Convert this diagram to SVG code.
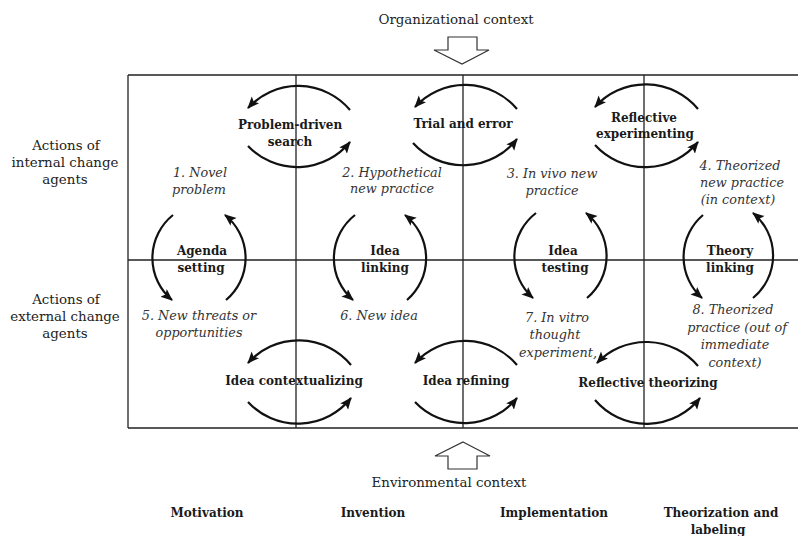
<svg xmlns="http://www.w3.org/2000/svg" width="798" height="536" viewBox="0 0 798 536">
<style>
.grid{stroke:#222;stroke-width:1.3;fill:none}
.arc{stroke:#111;stroke-width:2.2;fill:none;marker-end:url(#ah)}
.blk{stroke:#333;stroke-width:1.2;fill:#fff}
text{font-family:"DejaVu Serif",serif;font-size:13.4px;text-anchor:middle;fill:#222}
.b{font-size:12px;font-weight:bold;fill:#1a1a1a}
.i{font-size:12.8px;font-style:italic;fill:#333}
</style>
<defs>
<marker id="ah" markerUnits="userSpaceOnUse" markerWidth="14" markerHeight="12" refX="11" refY="5" orient="auto">
<path d="M0,0 L12,5 L0,10 L2.5,5 z" fill="#111"/>
</marker>
</defs>
<rect width="798" height="536" fill="#fff"/>
<g id="frame">
<path class="grid" d="M128,75 H798 M128,428 H798 M128,260 H798 M128,75 V428 M296,75 V428 M463,75 V428 M644,75 V428"/>
</g>
<g id="context-arrows">
<polygon class="blk" points="448,37 477,37 477,50 489,50 462,64 434,50 448,50"/>
<polygon class="blk" points="463,442 490,456 477,456 477,469 448,469 448,456 435,456"/>
</g>
<g id="connectors">
<path class="arc" d="M350,110 A68,68 0 0 0 248,108"/>
<path class="arc" d="M248,146 A68,68 0 0 0 350,142"/>
<path class="arc" d="M517,109 A68,68 0 0 0 415,107"/>
<path class="arc" d="M413,143 A68,68 0 0 0 517,139"/>
<path class="arc" d="M698,109 A68,68 0 0 0 595,107"/>
<path class="arc" d="M595,145 A68,68 0 0 0 698,142"/>
<path class="arc" d="M351,365 A68,68 0 0 0 248,363"/>
<path class="arc" d="M248,402 A68,68 0 0 0 351,398"/>
<path class="arc" d="M517,365 A68,68 0 0 0 415,363"/>
<path class="arc" d="M415,402 A68,68 0 0 0 517,398"/>
<path class="arc" d="M698,366 A68,68 0 0 0 597,363"/>
<path class="arc" d="M595,400 A68,68 0 0 0 700,398"/>
<path class="arc" d="M173,215 A55,55 0 0 0 172,300"/>
<path class="arc" d="M226,300 A55,55 0 0 0 225,215"/>
<path class="arc" d="M355,215 A55,55 0 0 0 353,300"/>
<path class="arc" d="M407,300 A55,55 0 0 0 405,215"/>
<path class="arc" d="M536,213 A55,55 0 0 0 533,298"/>
<path class="arc" d="M587,298 A55,55 0 0 0 586,213"/>
<path class="arc" d="M703,215 A55,55 0 0 0 702,298"/>
<path class="arc" d="M753,298 A55,55 0 0 0 753,213"/>
</g>
<g id="context-labels">
<text x="456" y="24">Organizational context</text>
<text x="449" y="487">Environmental context</text>
</g>
<g id="row-labels">
<text x="66" y="150">Actions of</text>
<text x="65" y="167">internal change</text>
<text x="65" y="184">agents</text>
<text x="66" y="304">Actions of</text>
<text x="65" y="321">external change</text>
<text x="65" y="338">agents</text>
</g>
<g id="problem-driven-search"><text class="b" x="290" y="129">Problem-driven</text><text class="b" x="290" y="146">search</text></g>
<g id="trial-and-error"><text class="b" x="463" y="128">Trial and error</text></g>
<g id="reflective-experimenting"><text class="b" x="644" y="122">Reflective</text><text class="b" x="645" y="138">experimenting</text></g>
<g id="agenda-setting"><text class="b" x="202" y="255">Agenda</text><text class="b" x="201" y="272">setting</text></g>
<g id="idea-linking"><text class="b" x="385" y="255">Idea</text><text class="b" x="385" y="272">linking</text></g>
<g id="idea-testing"><text class="b" x="563" y="255">Idea</text><text class="b" x="565" y="272">testing</text></g>
<g id="theory-linking"><text class="b" x="730" y="255">Theory</text><text class="b" x="730" y="272">linking</text></g>
<g id="idea-contextualizing"><text class="b" x="294" y="385">Idea contextualizing</text></g>
<g id="idea-refining"><text class="b" x="466" y="385">Idea refining</text></g>
<g id="reflective-theorizing"><text class="b" x="648" y="387">Reflective theorizing</text></g>
<g id="s1"><text class="i" x="200" y="177">1. Novel</text><text class="i" x="199" y="194">problem</text></g>
<g id="s2"><text class="i" x="392" y="177">2. Hypothetical</text><text class="i" x="392" y="193">new practice</text></g>
<g id="s3"><text class="i" x="552" y="178">3. In vivo new</text><text class="i" x="552" y="195">practice</text></g>
<g id="s4"><text class="i" x="740" y="170">4. Theorized</text><text class="i" x="742" y="187">new practice</text><text class="i" x="738" y="204">(in context)</text></g>
<g id="s5"><text class="i" x="199" y="320">5. New threats or</text><text class="i" x="199" y="337">opportunities</text></g>
<g id="s6"><text class="i" x="379" y="320">6. New idea</text></g>
<g id="s7"><text class="i" x="557" y="322">7. In vitro</text><text class="i" x="555" y="339">thought</text><text class="i" x="558" y="357">experiment,</text></g>
<g id="s8"><text class="i" x="733" y="314">8. Theorized</text><text class="i" x="737" y="332">practice (out of</text><text class="i" x="735" y="349">immediate</text><text class="i" x="735" y="367">context)</text></g>
<g id="phases">
<text class="b" x="207" y="517">Motivation</text>
<text class="b" x="373" y="517">Invention</text>
<text class="b" x="554" y="517">Implementation</text>
<text class="b" x="721" y="517">Theorization and</text>
<text class="b" x="718" y="534">labeling</text>
</g>
</svg>
